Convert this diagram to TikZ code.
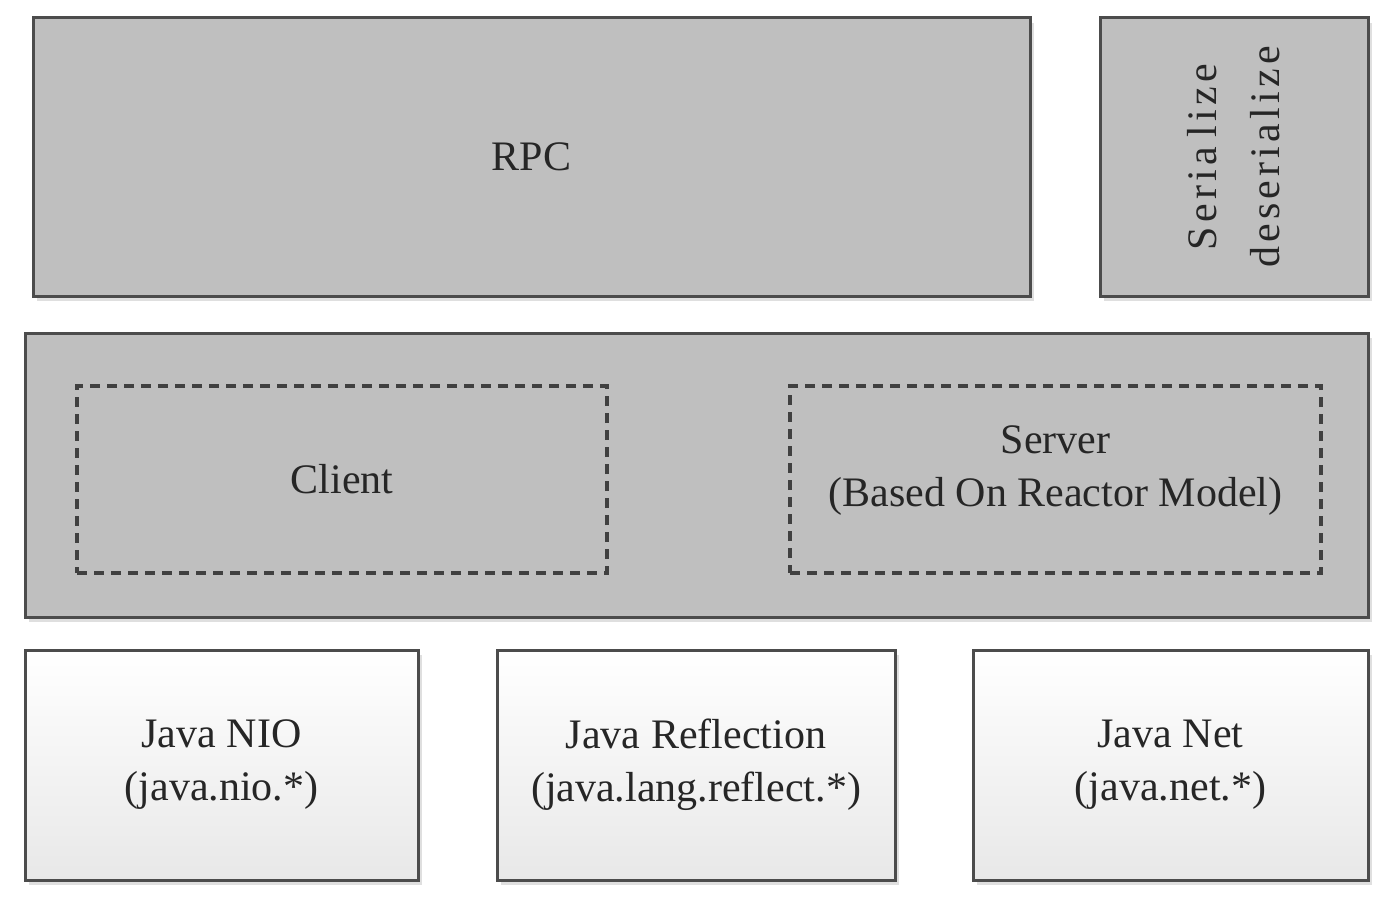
\documentclass[tikz,border=0pt]{standalone}
\usepackage{fontspec}
\setmainfont{Liberation Serif}
\newfontfamily\spacedfont[LetterSpace=10]{Liberation Serif}
\usetikzlibrary{positioning,shapes,shadows}

\begin{document}
\begin{tikzpicture}[x=1pt,y=-1pt,
		layer/.style={draw=black!70, line width=3pt, fill=black!25, text=black!85,
			drop shadow={fill=black!25, opacity=0.5, shadow xshift=4pt, shadow yshift=-5pt},
			font=\fontsize{42}{53}\selectfont, align=center, inner sep=0pt},
		javabox/.style={layer, top color=white, bottom color=black!9},
		part/.style={draw=black!75, line width=3.5pt, dash pattern=on 10pt off 7pt,
			text=black!85, font=\fontsize{42}{53}\selectfont, align=center, inner sep=0pt}]
		\useasboundingbox (0,0) rectangle (1392,904);
		
		% top row
		\node[layer, minimum width=997pt, minimum height=278pt] (rpc) at (531.5,157) {RPC};
		\node[layer, minimum width=268pt, minimum height=278pt] (serial) at (1234,157) {};
		\node[rotate=90, text=black!85, font=\fontsize{42}{63}\selectfont, align=center]
			(serialtext) at (serial.center) {\spacedfont\spaceskip=10pt Seria lize\\\spacedfont deserialize};
		
		% middle row
		\node[layer, minimum width=1343pt, minimum height=284pt] (core) at (696.5,475) {};
		\node[part, minimum width=530pt, minimum height=187pt] (client) at (342,479.5) {Client};
		\node[part, minimum width=531pt, minimum height=187pt] (server) at (1055.5,479.5) {};
		\node[text=black!85, font=\fontsize{42}{53}\selectfont, align=center]
			(servertext) at (1055.5,471) {Server\\(Based On Reactor Model)};
		
		% bottom row
		\node[javabox, minimum width=393pt, minimum height=230pt] (nio) at (221.5,765)
			{Java NIO\\(java.nio.*)};
		\node[javabox, minimum width=398pt, minimum height=230pt] (reflect) at (696,765)
			{Java Reflection\\(java.lang.reflect.*)};
		\node[javabox, minimum width=395pt, minimum height=230pt] (net) at (1170.5,765)
			{Java Net\\(java.net.*)};
	\end{tikzpicture}
\end{document}
